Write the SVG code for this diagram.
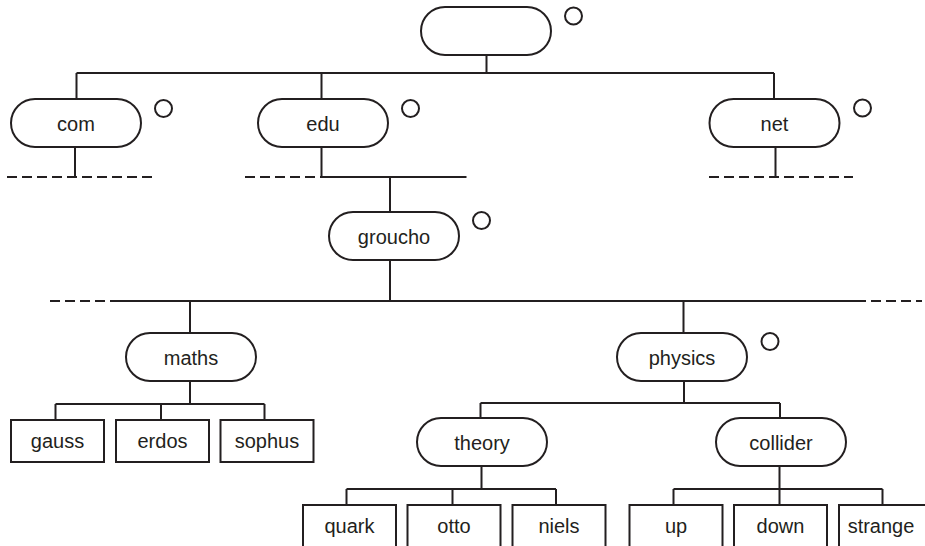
<svg xmlns="http://www.w3.org/2000/svg" width="925" height="546" viewBox="0 0 925 546">
<style>
.pill{fill:#fff;stroke:#231f20;stroke-width:2}
.box{fill:#fff;stroke:#231f20;stroke-width:2}
.dot{fill:#fff;stroke:#231f20;stroke-width:2}
.ln{fill:none;stroke:#231f20;stroke-width:2}
.dash{fill:none;stroke:#231f20;stroke-width:2;stroke-dasharray:10 5}
text{font-family:"Liberation Sans",Arial,sans-serif;font-size:20px;fill:#231f20;text-anchor:middle}
</style>
<rect width="925" height="546" fill="#fff"/>
<g id="connectors">
<path class="ln" d="M486.5 55V73M76.5 73H774M76.5 73V99M321.5 73V99M774 73V99"/>
<path class="ln" d="M75 147V177M321.5 147V177H466.5M390 177V212M775.5 147V177"/>
<path class="dash" d="M7 177H152M245 177H321.5M709 177H853"/>
<path class="ln" d="M390 260V301M113 301H856M190 301V333M683.5 301V333"/>
<path class="dash" d="M50 301H113M856 301H922"/>
<path class="ln" d="M190 381V404M55.5 404H264.5M55.5 404V420M161 404V420M264.5 404V420"/>
<path class="ln" d="M684 381V403M480.5 403H780M480.5 403V418M780 403V418"/>
<path class="ln" d="M481.5 466V489M346.5 489H556M346.5 489V505M452.5 489V505M556 489V505"/>
<path class="ln" d="M779.5 466V489M673.5 489H882.5M673.5 489V505M779.5 489V505M882.5 489V505"/>
</g>
<g id="root"><rect class="pill" x="421" y="7" width="130" height="48" rx="24"/><circle class="dot" cx="573.5" cy="16" r="8.5"/></g>
<g id="com"><rect class="pill" x="11" y="99" width="130" height="48" rx="24"/><text x="76" y="131">com</text><circle class="dot" cx="163.5" cy="108.5" r="8.5"/></g>
<g id="edu"><rect class="pill" x="258" y="99" width="130" height="48" rx="24"/><text x="323" y="131">edu</text><circle class="dot" cx="410.5" cy="108.5" r="8.5"/></g>
<g id="net"><rect class="pill" x="709.5" y="99" width="130" height="48" rx="24"/><text x="774.5" y="131">net</text><circle class="dot" cx="862.5" cy="108" r="8.5"/></g>
<g id="groucho"><rect class="pill" x="329" y="212" width="130" height="48" rx="24"/><text x="394" y="244">groucho</text><circle class="dot" cx="481.5" cy="220.5" r="8.5"/></g>
<g id="maths"><rect class="pill" x="126" y="333" width="130" height="48" rx="24"/><text x="191" y="365">maths</text></g>
<g id="physics"><rect class="pill" x="617" y="333" width="130" height="48" rx="24"/><text x="682" y="365">physics</text><circle class="dot" cx="770" cy="341.5" r="8.5"/></g>
<g id="theory"><rect class="pill" x="417" y="418" width="130" height="48" rx="24"/><text x="482" y="450">theory</text></g>
<g id="collider"><rect class="pill" x="716" y="418" width="130" height="48" rx="24"/><text x="781" y="450">collider</text></g>
<g id="gauss"><rect class="box" x="11" y="420" width="93" height="42"/><text x="57.5" y="448">gauss</text></g>
<g id="erdos"><rect class="box" x="116" y="420" width="93" height="42"/><text x="162.5" y="448">erdos</text></g>
<g id="sophus"><rect class="box" x="220.5" y="420" width="93" height="42"/><text x="267" y="448">sophus</text></g>
<g id="quark"><rect class="box" x="303" y="505" width="93" height="42"/><text x="349.5" y="533">quark</text></g>
<g id="otto"><rect class="box" x="407.5" y="505" width="93" height="42"/><text x="454" y="533">otto</text></g>
<g id="niels"><rect class="box" x="512.5" y="505" width="93" height="42"/><text x="559" y="533">niels</text></g>
<g id="up"><rect class="box" x="629.5" y="505" width="93" height="42"/><text x="676" y="533">up</text></g>
<g id="down"><rect class="box" x="734" y="505" width="93" height="42"/><text x="780.5" y="533">down</text></g>
<g id="strange"><rect class="box" x="839" y="505" width="93" height="42"/><text x="881" y="533">strange</text></g>
</svg>
